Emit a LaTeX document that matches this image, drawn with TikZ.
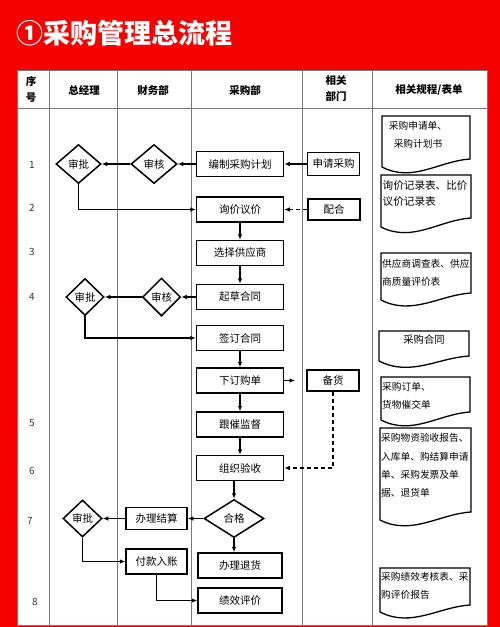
\documentclass[tikz,border=0pt]{standalone}
\usepackage{fontspec}
\newfontfamily\cjk{Noto Sans CJK SC}
\usetikzlibrary{shapes.geometric,arrows.meta}
\definecolor{bgred}{RGB}{246,0,0}
\definecolor{gridgray}{RGB}{120,120,120}
\newcommand{\docshape}[5]{% x1, top, x2, yLeft, yRight
  \draw[docline] (#1,#2) -- (#3,#2) -- (#3,#5)
    .. controls ({#3-0.35*(#3-#1)},#5+2) and ({#1+0.35*(#3-#1)},#4+16) .. (#1,#4) -- cycle;}
\tikzset{
  flowbox/.style={draw, line width=1.5pt, minimum width=87pt, minimum height=25pt, inner sep=0pt, font=\cjk\fontsize{10.5}{12}\selectfont},
  sidebox/.style={draw, line width=1.5pt, minimum width=52pt, minimum height=22pt, inner sep=0pt, font=\cjk\fontsize{10.5}{12}\selectfont},
  decide/.style={diamond, draw, line width=1.5pt, inner sep=0pt, font=\cjk\fontsize{10.5}{12}\selectfont},
  flowarrow/.style={line width=1.3pt, -{Latex[length=5.5pt,width=4.5pt]}},
  dasharrow/.style={flowarrow, dash pattern=on 4pt off 3pt},
  docline/.style={line width=1.3pt},
  doctext/.style={font=\cjk\fontsize{9.7}{18}\selectfont, inner sep=0pt},
  headtext/.style={font=\cjk\bfseries\fontsize{10.5}{16}\selectfont, align=center, inner sep=0pt},
  rownum/.style={font=\cjk\fontsize{10}{12}\selectfont, text=black!80},
  grid/.style={draw=gridgray, line width=1pt}
}
\begin{document}
\begin{tikzpicture}[x=1pt,y=-1pt]
\useasboundingbox (0,0) rectangle (500,627);
\fill[bgred] (0,0) rectangle (500,627);
% title
\node[anchor=west, text=white, inner sep=0pt, font=\cjk\bfseries\fontsize{27}{30}\selectfont] (title) at (16,33) {①采购管理总流程};
% table
\fill[white] (17,70) rectangle (487,625);
\draw[grid] (17,70) rectangle (487,625);
\draw[grid] (17,108) -- (487,108);
\foreach \cx in {49,117,191,302,372} \draw[grid] (\cx,70) -- (\cx,625);
% header
\node[headtext] (h0) at (31,89) {序\\号};
\node[headtext] (h1) at (84,90) {总经理};
\node[headtext] (h2) at (153,90) {财务部};
\node[headtext] (h3) at (245,90) {采购部};
\node[headtext] (h4) at (336,89) {相关\\部门};
\node[headtext] (h5) at (429,90) {相关规程/表单};
% row numbers
\node[rownum] (r1) at (32,165) {1};
\node[rownum] (r2) at (32,208) {2};
\node[rownum] (r3) at (32,252) {3};
\node[rownum] (r4) at (32,297) {4};
\node[rownum] (r5) at (32,423) {5};
\node[rownum] (r6) at (32,471) {6};
\node[rownum] (r7) at (30,521) {7};
\node[rownum] (r8) at (35,602) {8};
% purchasing column
\node[flowbox] (plan) at (240,164) {编制采购计划};
\node[flowbox] (inq) at (240,209.5) {询价议价};
\node[flowbox] (sel) at (240,253) {选择供应商};
\node[flowbox] (draft) at (240,297) {起草合同};
\node[flowbox] (sign) at (240,338) {签订合同};
\node[flowbox] (order) at (240,380.5) {下订购单};
\node[flowbox] (follow) at (240,424.5) {跟催监督};
\node[flowbox] (check) at (240,468) {组织验收};
\node[decide, minimum width=60pt, minimum height=38pt] (ok) at (234,518.5) {合格};
\node[flowbox, minimum width=84pt] (ret) at (240,565.5) {办理退货};
\node[flowbox, minimum width=84pt] (eval) at (240,600.5) {绩效评价};
% related departments
\node[sidebox, minimum height=23pt] (apply) at (333.5,164) {申请采购};
\node[sidebox, minimum height=21pt] (coop) at (334,209.5) {配合};
\node[sidebox, minimum height=21pt] (stock) at (333,380.5) {备货};
% finance
\node[decide, minimum width=46pt, minimum height=39pt] (aud1) at (154,164) {审核};
\node[decide, minimum width=38pt, minimum height=38pt] (aud2) at (161.5,297) {审核};
\node[flowbox, minimum width=61pt, minimum height=22pt] (settle) at (156.5,518.5) {办理结算};
\node[flowbox, minimum width=61pt, minimum height=25pt] (pay) at (156.5,561.5) {付款入账};
% general manager
\node[decide, minimum width=45pt, minimum height=39pt] (app1) at (78.5,164) {审批};
\node[decide, minimum width=38pt, minimum height=37pt] (app2) at (85,297) {审批};
\node[decide, minimum width=39pt, minimum height=37pt] (app3) at (82.5,518.5) {审批};
% connectors
\draw[flowarrow] (apply) -- (plan);
\draw[flowarrow] (plan) -- (aud1);
\draw[flowarrow] (aud1) -- (app1);
\draw[flowarrow] (app1.south) |- (inq.west);
\draw[dasharrow] (coop) -- (inq);
\draw[flowarrow] (inq) -- (sel);
\draw[flowarrow] (sel) -- (draft);
\draw[flowarrow] (draft) -- (aud2);
\draw[flowarrow] (aud2) -- (app2);
\draw[flowarrow] (app2.south) |- (sign.west);
\draw[flowarrow] (sign) -- (order);
\draw[flowarrow] (order) -- (follow);
\draw[flowarrow] (follow) -- (check);
\coordinate (stockin) at (295,380.5);
\draw[flowarrow] (order.east) -- (stockin);
\draw[dasharrow] (stock.south) |- (check.east);
\draw[flowarrow] (ok.north |- check.south) -- (ok.north);
\draw[flowarrow] (ok.south) -- (ok.south |- ret.north);
\draw[flowarrow] (ok) -- (settle);
\draw[flowarrow] (settle) -- (app3);
\draw[flowarrow] (app3.south) |- (pay.west);
\draw[flowarrow] (pay.south) |- (eval.west);
% documents
\docshape{382}{116}{470}{167}{159}
\node[doctext, align=center] (d1) at (418,134.5) {采购申请单、\\采购计划书};
\docshape{381}{175}{471}{227}{218}
\node[doctext, align=left, anchor=west, font=\cjk\fontsize{10.6}{17}\selectfont] (d2) at (382.5,193.5) {询价记录表、比价\\议价记录表};
\docshape{381}{253}{471}{300}{293}
\node[doctext, align=left, anchor=west] (d3) at (382,272.5) {供应商调查表、供应\\商质量评价表};
\docshape{379}{331}{469}{361}{356}
\node[doctext, font=\cjk\fontsize{10.3}{12}\selectfont] (d4) at (424,340) {采购合同};
\docshape{381}{377}{470}{420}{412}
\node[doctext, align=left, anchor=west] (d5) at (382,396) {采购订单、\\货物催交单};
\docshape{380}{428}{471}{520}{512}
\node[doctext, align=left, anchor=west, font=\cjk\fontsize{9.7}{18.3}\selectfont] (d6) at (381,465.5) {采购物资验收报告、\\入库单、购结算申请\\单、采购发票及单\\据、退货单};
\docshape{380}{568}{470}{612}{605}
\node[doctext, align=left, anchor=west] (d7) at (381,586) {采购绩效考核表、采\\购评价报告};
\end{tikzpicture}
\end{document}
